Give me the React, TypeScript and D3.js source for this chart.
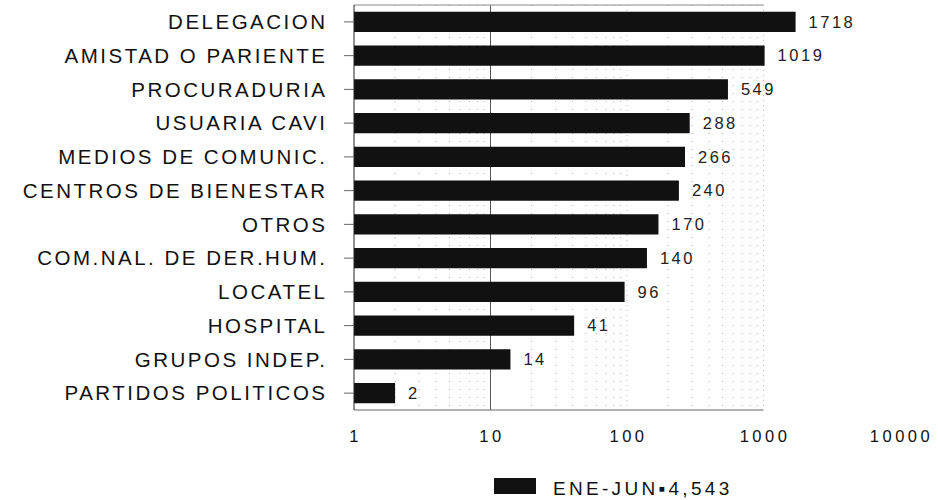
import React from "react";
import * as d3 from "d3";

const categories = [
  "DELEGACION",
  "AMISTAD O PARIENTE",
  "PROCURADURIA",
  "USUARIA CAVI",
  "MEDIOS DE COMUNIC.",
  "CENTROS DE BIENESTAR",
  "OTROS",
  "COM.NAL. DE DER.HUM.",
  "LOCATEL",
  "HOSPITAL",
  "GRUPOS INDEP.",
  "PARTIDOS POLITICOS",
];
const values = [1718, 1019, 549, 288, 266, 240, 170, 140, 96, 41, 14, 2];
const tickValues = [1, 10, 100, 1000, 10000];
const legendLabel = "ENE-JUN▪4,543";

const W = 938;
const H = 500;
const left = 354;
const right = 900;
const top = 5;
const bottom = 410;

export default function App() {
  const x = d3.scaleLog().domain([1, 10000]).range([left, right]);
  const y = d3
    .scaleBand<string>()
    .domain(categories)
    .range([top, bottom])
    .paddingInner(0.4)
    .paddingOuter(0.2);

  const minor: number[] = [];
  for (let d = 1; d < 1000; d *= 10) {
    for (let k = 2; k <= 9; k++) minor.push(d * k);
  }

  const font = "Liberation Sans, Arial, Helvetica, sans-serif";

  return (
    <svg
      width={W}
      height={H}
      style={{ position: "absolute", left: 0, top: 0, background: "#fff" }}
      fontFamily={font}
    >
      {/* minor gridlines */}
      {minor.map((m) => (
        <line
          key={"m" + m}
          x1={x(m)}
          x2={x(m)}
          y1={top}
          y2={bottom}
          stroke="#aaa"
          strokeWidth={1}
          strokeDasharray="1,7"
        />
      ))}
      {/* major gridlines */}
      {tickValues.slice(1, 4).map((t) => (
        <line
          key={"g" + t}
          x1={x(t)}
          x2={x(t)}
          y1={top}
          y2={bottom}
          stroke={t === 10 ? "#555" : "#bbb"}
          strokeWidth={1}
          strokeDasharray={t === 10 ? undefined : "1,4"}
        />
      ))}
      {/* top frame line */}
      <line x1={left} x2={x(1000)} y1={top} y2={top} stroke="#888" strokeWidth={1} />
      {/* bottom axis line */}
      <line x1={left} x2={x(1000)} y1={bottom} y2={bottom} stroke="#666" strokeWidth={1} />
      {/* bars */}
      {categories.map((c, i) => (
        <rect
          key={c}
          x={x(1)}
          y={y(c)!}
          width={x(values[i]) - x(1)}
          height={y.bandwidth()}
          fill="#111"
        />
      ))}
      {/* left axis */}
      <line x1={left} x2={left} y1={top} y2={bottom} stroke="#222" strokeWidth={1} />
      {categories.map((c) => (
        <line
          key={"t" + c}
          x1={left - 10}
          x2={left}
          y1={y(c)! + y.bandwidth() / 2}
          y2={y(c)! + y.bandwidth() / 2}
          stroke="#666"
          strokeWidth={1}
        />
      ))}
      {/* category labels */}
      {categories.map((c) => (
        <text
          key={"l" + c}
          x={327.5}
          y={y(c)! + y.bandwidth() / 2}
          dy="0.35em"
          textAnchor="end"
          fontSize={20.5}
          letterSpacing={2.5}
          fill="#111"
        >
          {c}
        </text>
      ))}
      {/* value labels */}
      {categories.map((c, i) => (
        <text
          key={"v" + c}
          x={x(values[i]) + 13}
          y={y(c)! + y.bandwidth() / 2}
          dy="0.35em"
          fontSize={16.5}
          letterSpacing={2.5}
          fill="#222"
        >
          {values[i]}
        </text>
      ))}
      {/* x tick labels */}
      {tickValues.map((t) => (
        <text
          key={"x" + t}
          x={x(t) + 1.5}
          y={442}
          textAnchor="middle"
          fontSize={16.5}
          letterSpacing={3.5}
          fill="#111"
        >
          {t}
        </text>
      ))}
      {/* legend */}
      <rect x={494} y={478} width={42} height={16} fill="#111" />
      <text x={553} y={495} fontSize={19} letterSpacing={3.3} fill="#111">
        {legendLabel}
      </text>
    </svg>
  );
}
